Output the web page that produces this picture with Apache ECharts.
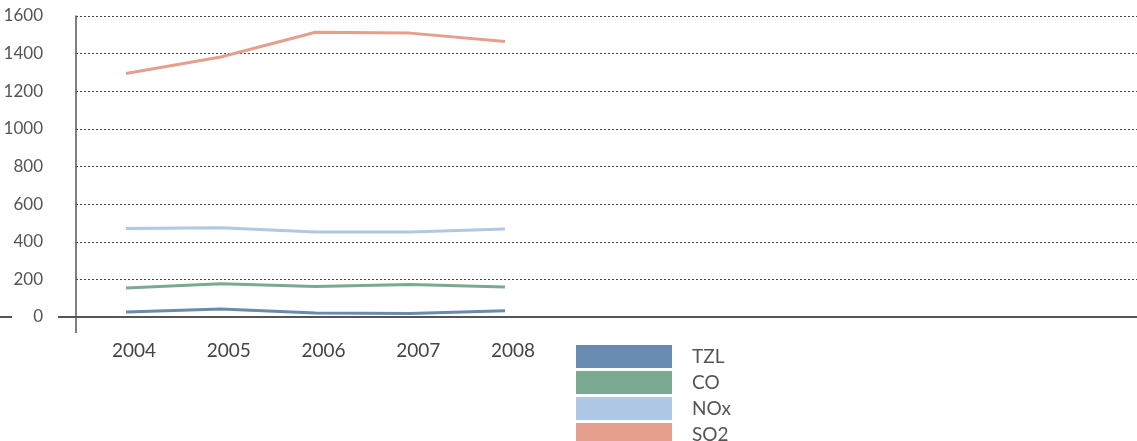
<!DOCTYPE html>
<html>
<head>
    <meta charset="utf-8">
    <title>Emissions 2004-2008</title>
    <script src="https://cdn.jsdelivr.net/npm/echarts@6/dist/echarts.min.js"></script>
    <style>
        html, body { margin: 0; padding: 0; background: #fff; }
        #chart1 { width: 1137px; height: 441px; }
    </style>
</head>
<body>
<div id="chart1"></div>
<script>
    // data
    var years = [2004, 2005, 2006, 2007, 2008];
    var yTicks = [0, 200, 400, 600, 800, 1000, 1200, 1400, 1600];
    var seriesNames = ['TZL', 'CO', 'NOx', 'SO2'];
    var tzl = [27, 42, 21, 19, 33];
    var co = [154, 177, 162, 173, 159];
    var nox = [470, 475, 452, 452, 468];
    var so2 = [1294, 1382, 1514, 1509, 1465];
    var colors = ['#688baf', '#7aaa91', '#aec8e6', '#e69e8e'];

    function pairs(vals) {
        return years.map(function (y, i) { return [y, vals[i]]; });
    }

    var myChart1 = echarts.init(document.getElementById('chart1'));
    var font = 'Lato, "DejaVu Sans", sans-serif';
    var values = [tzl, co, nox, so2];

    myChart1.setOption({
        animation: false,
        color: colors,
        grid: { left: 76, right: 0, top: 16, bottom: 124 },
        legend: {
            orient: 'vertical',
            left: 571,
            top: 340,
            height: 130,
            icon: 'rect',
            itemWidth: 96,
            itemHeight: 23,
            itemGap: 3,
            data: seriesNames,
            textStyle: { fontFamily: font, fontSize: 19, color: '#555', padding: [0, 0, 0, 15], lineHeight: 23 }
        },
        xAxis: {
            type: 'value',
            min: 2003.472,
            max: 2014.67,
            axisLine: { show: true, lineStyle: { color: '#555', width: 2 } },
            axisTick: { show: false },
            splitLine: { show: false },
            axisLabel: {
                customValues: years,
                fontFamily: font, fontSize: 19, color: '#444',
                margin: 24,
                padding: [0, 0, 0, 16],
                formatter: function (v) { return String(Math.round(v)); }
            }
        },
        yAxis: {
            type: 'value',
            min: yTicks[0],
            max: yTicks[yTicks.length - 1],
            interval: 200,
            axisLine: { show: true, lineStyle: { color: '#555', width: 1.5 } },
            axisTick: { show: false },
            axisLabel: {
                fontFamily: font, fontSize: 17, color: '#555', margin: 33,
                formatter: function (v) { return String(v); }
            },
            splitLine: { show: true, lineStyle: { color: '#444', width: 1, type: [2, 2] } }
        },
        series: seriesNames.map(function (name, i) {
            return {
                name: name,
                type: 'line',
                showSymbol: false,
                lineStyle: { width: 3, color: colors[i] },
                itemStyle: { color: colors[i] },
                data: pairs(values[i])
            };
        })
    });

    // small extensions of the axis lines, like the original
    var y0 = myChart1.convertToPixel({ yAxisIndex: 0 }, 0);
    var x0 = myChart1.convertToPixel({ xAxisIndex: 0 }, 2003.472);
    myChart1.setOption({
        graphic: [
            { type: 'line', shape: { x1: 0, y1: y0, x2: 12, y2: y0 }, style: { stroke: '#555', lineWidth: 2 } },
            { type: 'line', shape: { x1: 58, y1: y0, x2: x0, y2: y0 }, style: { stroke: '#555', lineWidth: 2 } },
            { type: 'line', shape: { x1: x0, y1: y0, x2: x0, y2: y0 + 16 }, style: { stroke: '#555', lineWidth: 1.5 } }
        ]
    });
</script>
</body>
</html>
